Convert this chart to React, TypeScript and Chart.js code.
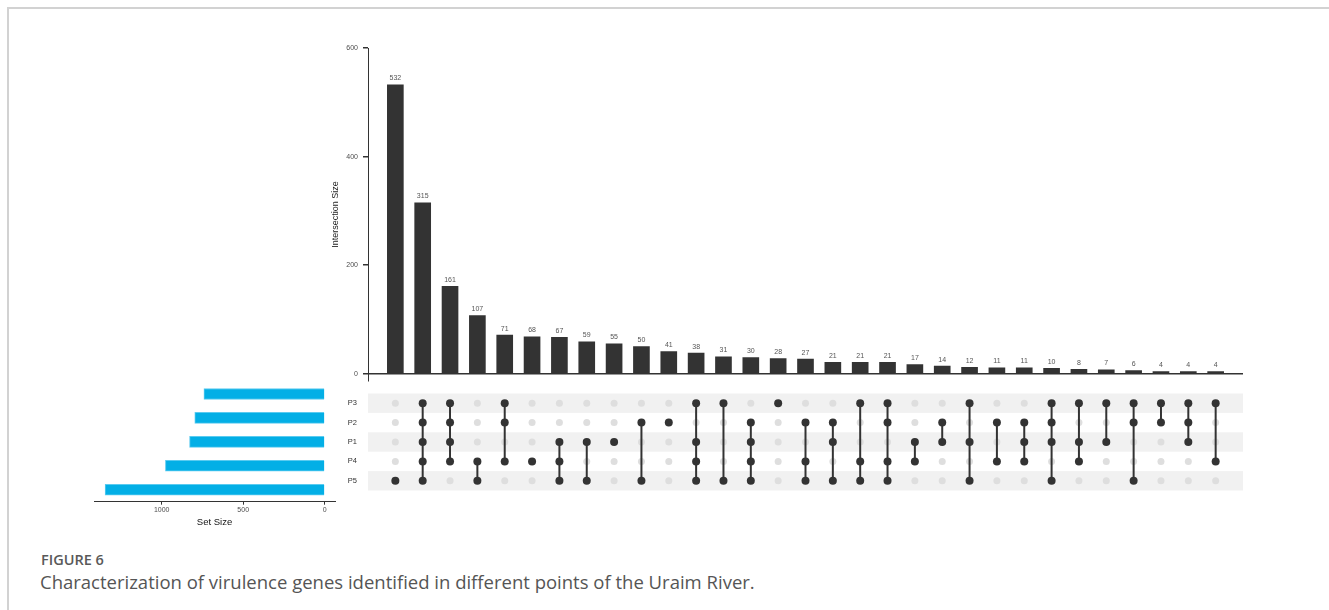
import React, { useEffect, useRef } from 'react';
import { Chart, registerables } from 'chart.js';

Chart.register(...registerables);

// Sets shown in the matrix rows, top to bottom
const setNames = ['P3', 'P2', 'P1', 'P4', 'P5'];
// Total genes per sampling point
const setSizes = [741, 797, 829, 977, 1347];
// Size of each intersection, in plotted order
const intersectionSizes = [532, 315, 161, 107, 71, 68, 67, 59, 55, 50, 41, 38, 31, 30, 28, 27, 21, 21, 21, 17, 14, 12, 11, 11, 10, 8, 7, 6, 4, 4, 4];
// Which sets take part in each intersection
const intersectionSets = [
  ['P5'],
  ['P3', 'P2', 'P1', 'P4', 'P5'],
  ['P3', 'P2', 'P1', 'P4'],
  ['P4', 'P5'],
  ['P3', 'P2', 'P4'],
  ['P4'],
  ['P1', 'P4', 'P5'],
  ['P1', 'P5'],
  ['P1'],
  ['P2', 'P5'],
  ['P2'],
  ['P3', 'P1', 'P4', 'P5'],
  ['P3', 'P5'],
  ['P2', 'P1', 'P4', 'P5'],
  ['P3'],
  ['P2', 'P4', 'P5'],
  ['P2', 'P1', 'P5'],
  ['P3', 'P4', 'P5'],
  ['P3', 'P2', 'P4', 'P5'],
  ['P1', 'P4'],
  ['P2', 'P1'],
  ['P3', 'P1', 'P5'],
  ['P2', 'P4'],
  ['P2', 'P1', 'P4'],
  ['P3', 'P2', 'P1', 'P5'],
  ['P3', 'P1', 'P4'],
  ['P3', 'P1'],
  ['P3', 'P2', 'P5'],
  ['P3', 'P2'],
  ['P3', 'P2', 'P1'],
  ['P3', 'P4'],
];
const intersectionTicks = [0, 200, 400, 600];
const setSizeTicks = [0, 500, 1000];

const FONT = '"Liberation Sans", Arial, sans-serif';
const DARK = '#333333';

const valueLabels = {
  id: 'valueLabels',
  afterDatasetsDraw(chart: any) {
    const ctx = chart.ctx;
    const meta = chart.getDatasetMeta(0);
    ctx.save();
    ctx.font = `7px ${FONT}`;
    ctx.fillStyle = '#555555';
    ctx.textAlign = 'center';
    ctx.textBaseline = 'bottom';
    meta.data.forEach((el: any, i: number) => {
      ctx.fillText(String(intersectionSizes[i]), el.x, el.y - 3);
    });
    ctx.restore();
  },
};

const rowBands = {
  id: 'rowBands',
  beforeDatasetsDraw(chart: any) {
    const ctx = chart.ctx;
    const ys = chart.scales.y;
    const { left, right } = chart.chartArea;
    ctx.save();
    ctx.fillStyle = '#f1f1f1';
    setNames.forEach((_, r) => {
      if (r % 2 !== 0) return;
      const a = ys.getPixelForValue(r - 0.5);
      const b = ys.getPixelForValue(r + 0.5);
      ctx.fillRect(left, Math.min(a, b), right - left, Math.abs(b - a));
    });
    ctx.restore();
  },
};

function useChart(ref: React.RefObject<HTMLCanvasElement>, make: (c: HTMLCanvasElement) => Chart) {
  useEffect(() => {
    if (!ref.current) return;
    const chart = make(ref.current);
    return () => chart.destroy();
  }, []);
}

export default function App() {
  const barRef = useRef<HTMLCanvasElement>(null);
  const matrixRef = useRef<HTMLCanvasElement>(null);
  const setRef = useRef<HTMLCanvasElement>(null);

  // Intersection size bars
  useChart(barRef, (c) =>
    new Chart(c, {
      type: 'bar',
      data: {
        datasets: [
          {
            data: intersectionSizes.map((v, i) => ({ x: i, y: v })),
            backgroundColor: DARK,
            barThickness: 16,
          },
        ],
      },
      options: {
        animation: false,
        responsive: false,
        maintainAspectRatio: false,
        layout: { padding: { left: 0, right: 17, top: 18, bottom: 9 } },
        plugins: { legend: { display: false }, tooltip: { enabled: false } },
        scales: {
          x: { type: 'linear', min: -1, max: 31, offset: false, display: false },
          y: {
            type: 'linear',
            min: -13,
            max: 600,
            afterBuildTicks: (s: any) => {
              s.ticks = intersectionTicks.map((v) => ({ value: v }));
            },
            afterFit: (s: any) => {
              s.width = 68;
            },
            border: { display: true, color: DARK, width: 1 },
            grid: {
              color: (ctx: any) => (ctx.tick && ctx.tick.value === 0 ? DARK : 'rgba(0,0,0,0)'),
              lineWidth: 1.5,
              tickColor: DARK,
              tickLength: 5,
              drawTicks: true,
            },
            ticks: {
              padding: 5,
              color: '#4d4d4d',
              font: { family: FONT, size: 7 },
              callback: (v: any) => String(v),
            },
            title: {
              display: true,
              text: 'Intersection Size',
              color: '#222222',
              font: { family: FONT, size: 9 },
              padding: { top: 30, bottom: 0 },
            },
          },
        },
      },
      plugins: [valueLabels],
    } as any)
  );

  // Membership matrix
  useChart(matrixRef, (c) => {
    const grey: { x: number; y: number }[] = [];
    const dark: { x: number; y: number }[] = [];
    const links: { x: number; y: number | null }[] = [];
    intersectionSets.forEach((sets, col) => {
      setNames.forEach((name, row) => {
        (sets.includes(name) ? dark : grey).push({ x: col, y: row });
      });
      if (sets.length > 1) {
        const rows = sets.map((s) => setNames.indexOf(s));
        links.push({ x: col, y: Math.min(...rows) }, { x: col, y: Math.max(...rows) }, { x: col, y: null });
      }
    });
    return new Chart(c, {
      type: 'scatter',
      data: {
        datasets: [
          { data: dark, backgroundColor: DARK, borderWidth: 0, pointRadius: 4, order: 0 },
          {
            data: links,
            showLine: true,
            spanGaps: false,
            borderColor: DARK,
            borderWidth: 2,
            pointRadius: 0,
            order: 1,
          },
          { data: grey, backgroundColor: '#dedede', borderWidth: 0, pointRadius: 3.5, order: 2 },
        ],
      },
      options: {
        animation: false,
        responsive: false,
        maintainAspectRatio: false,
        layout: { padding: { left: 0, right: 7, top: 4, bottom: 4 } },
        plugins: { legend: { display: false }, tooltip: { enabled: false } },
        scales: {
          x: { type: 'linear', min: -1, max: 31, display: false },
          y: {
            type: 'linear',
            min: -0.5,
            max: 4.5,
            reverse: true,
            afterBuildTicks: (s: any) => {
              s.ticks = setNames.map((_, i) => ({ value: i }));
            },
            afterFit: (s: any) => {
              s.width = 48;
            },
            border: { display: false },
            grid: { display: false, drawTicks: false },
            ticks: {
              padding: 11,
              color: '#333333',
              font: { family: FONT, size: 7.5 },
              callback: (v: any) => setNames[Math.round(Number(v))] ?? '',
            },
          },
        },
      },
      plugins: [rowBands],
    } as any);
  });

  // Set size bars
  useChart(setRef, (c) =>
    new Chart(c, {
      type: 'bar',
      data: {
        labels: setNames,
        datasets: [
          {
            data: setSizes,
            backgroundColor: '#03AFE6',
            borderColor: '#5BCBF0',
            borderWidth: 1,
            barThickness: 11,
          },
        ],
      },
      options: {
        indexAxis: 'y',
        animation: false,
        responsive: false,
        maintainAspectRatio: false,
        layout: { padding: { left: 14, right: 10, top: 4, bottom: 0 } },
        plugins: { legend: { display: false }, tooltip: { enabled: false } },
        scales: {
          y: { type: 'category', display: false },
          x: {
            type: 'linear',
            reverse: true,
            min: -63,
            max: 1415,
            afterBuildTicks: (s: any) => {
              s.ticks = setSizeTicks.map((v) => ({ value: v }));
            },
            border: { display: true, color: DARK, width: 1 },
            grid: { display: true, drawOnChartArea: false, tickColor: DARK, tickLength: 3 },
            ticks: {
              padding: 1,
              color: '#4d4d4d',
              font: { family: FONT, size: 7 },
              callback: (v: any) => String(v),
            },
            title: {
              display: true,
              text: 'Set Size',
              color: '#111111',
              font: { family: FONT, size: 9.5 },
              padding: { top: 1.5, bottom: 0 },
            },
          },
        },
      },
    } as any)
  );

  const abs = (left: number, top: number, width: number, height: number): React.CSSProperties => ({
    position: 'absolute',
    left,
    top,
    width,
    height,
  });

  return (
    <div style={{ position: 'absolute', left: 0, top: 0, width: 1329, height: 610, background: '#ffffff', overflow: 'hidden' }}>
      <div
        style={{
          position: 'absolute',
          left: 7,
          top: 7,
          width: 1330,
          height: 610,
          borderTop: '2px solid #d2d2d2',
          borderLeft: '2px solid #d2d2d2',
        }}
      />
      <canvas ref={barRef} width={960} height={360} style={abs(300, 30, 960, 360)} />
      <canvas ref={setRef} width={265} height={150} style={abs(80, 378, 265, 150)} />
      <canvas ref={matrixRef} width={930} height={128} style={abs(320, 378, 930, 128)} />
      <div
        style={{
          position: 'absolute',
          left: 41,
          top: 551,
          fontFamily: '"Open Sans", sans-serif',
          fontWeight: 600,
          fontSize: 14.5,
          color: '#595959',
          lineHeight: '18px',
          whiteSpace: 'nowrap',
        }}
      >
        FIGURE 6
      </div>
      <div
        style={{
          position: 'absolute',
          left: 40,
          top: 571,
          fontFamily: '"Open Sans", sans-serif',
          fontSize: 18.5,
          color: '#555555',
          lineHeight: '22px',
          whiteSpace: 'nowrap',
        }}
      >
        Characterization of virulence genes identified in different points of the Uraim River.
      </div>
    </div>
  );
}
